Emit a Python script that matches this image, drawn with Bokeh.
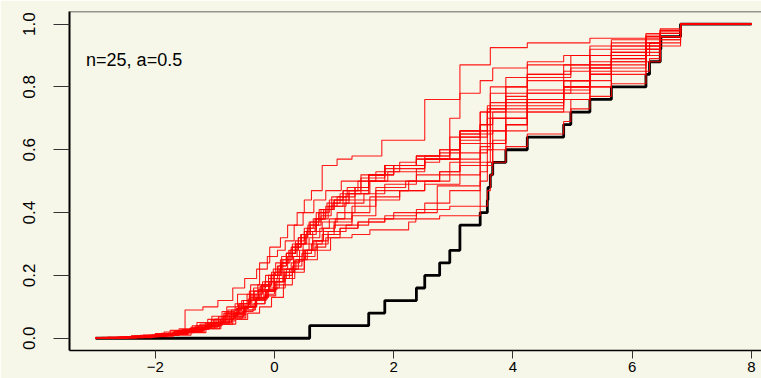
import numpy as np
from bokeh.plotting import figure
from bokeh.models import FixedTicker, Label, Range1d, Span, PrintfTickFormatter
from bokeh.embed import file_html
from bokeh.resources import INLINE

# ---------------- data ----------------
x_ticks = [-2, 0, 2, 4, 6, 8]
x_tick_labels = ["\u22122", "0", "2", "4", "6", "8"]
y_ticks = [0.0, 0.2, 0.4, 0.6, 0.8, 1.0]
annotation_text = "n=25, a=0.5"
x_start, x_end = -3.0, 8.0

# observed sample (n = 25), black empirical CDF
sample_x = [0.59, 1.58, 1.85, 2.38, 2.52, 2.77, 2.94, 3.11, 3.11, 3.45, 3.57, 3.58, 3.62,
            3.66, 3.88, 4.24, 4.85, 4.97, 5.29, 5.65, 6.23, 6.29, 6.47, 6.48, 6.81]

# red random CDF draws: jump locations and CDF value after each jump
red_x01 = [-2.6, -2.2, -1.85, -1.6, -1.3, -1.05, -0.8, -0.62, -0.4, -0.25, -0.08, 0.1, 0.22, 0.38, 0.5, 0.62, 0.8, 1.05, 1.3, 1.8, 2.52, 3.11, 3.62, 4.24, 5.29, 6.23, 6.47, 6.81]
red_y01 = [.004, .01, .02, .03, .05, .07, .1, .14, .17, .24, .29, .32, .36, .4, .44, .47, .55, .57, .58, .63, .76, .87, .925, .94, .955, .97, .985, 1]
red_x02 = [-2.9, -2.4, -2.0, -1.75, -1.5, -1.2, -0.95, -0.7, -0.5, -0.3, -0.12, 0.05, 0.18, 0.33, 0.48, 0.66, 0.86, 1.12, 1.45, 1.85, 2.38, 2.94, 3.11, 3.45, 3.66, 4.24, 4.85, 5.29, 5.65, 6.23, 6.47, 6.81]
red_y02 = [.003, .008, .015, .025, .09, .1, .12, .16, .19, .22, .26, .28, .31, .36, .4, .44, .47, .5, .52, .55, .58, .7, .78, .82, .86, .88, .9, .93, .95, .965, .98, 1]
red_x03 = [-2.7, -2.3, -1.95, -1.6, -1.35, -1.1, -0.85, -0.6, -0.42, -0.2, -0.02, 0.12, 0.3, 0.45, 0.58, 0.75, 0.98, 1.25, 1.58, 1.85, 2.52, 2.77, 3.11, 3.57, 3.88, 4.24, 4.97, 5.29, 5.65, 6.23, 6.47, 6.81]
red_y03 = [.002, .006, .012, .02, .035, .05, .08, .11, .15, .18, .22, .26, .3, .33, .37, .41, .43, .47, .52, .55, .58, .6, .66, .74, .8, .84, .86, .9, .93, .955, .975, 1]
red_x04 = [-2.8, -2.25, -1.9, -1.55, -1.25, -1.0, -0.78, -0.55, -0.35, -0.15, 0.02, 0.2, 0.35, 0.52, 0.7, 0.9, 1.15, 1.4, 1.7, 2.1, 2.38, 2.94, 3.45, 3.62, 4.24, 4.85, 5.29, 5.65, 6.29, 6.47, 6.81]
red_y04 = [.003, .009, .016, .028, .045, .06, .09, .12, .16, .2, .24, .27, .3, .33, .38, .42, .47, .5, .53, .56, .58, .64, .68, .75, .79, .82, .86, .9, .94, .97, 1]
red_x05 = [-2.5, -2.05, -1.7, -1.4, -1.15, -0.9, -0.65, -0.45, -0.25, -0.05, 0.15, 0.3, 0.5, 0.72, 0.94, 1.3, 1.6, 2.25, 2.37, 2.77, 3.45, 3.57, 3.62, 3.66, 3.88, 4.24, 4.85, 4.97, 5.29, 5.65, 6.23, 6.29, 6.47, 6.81]
red_y05 = [.002, .005, .01, .018, .03, .045, .06, .08, .1, .13, .17, .21, .25, .28, .32, .33, .345, .37, .38, .39, .42, .47, .52, .56, .61, .65, .69, .73, .77, .81, .85, .89, .94, 1]
red_x06 = [-2.65, -2.15, -1.8, -1.5, -1.2, -0.95, -0.72, -0.5, -0.3, -0.1, 0.08, 0.25, 0.4, 0.55, 0.72, 0.9, 1.1, 1.4, 1.85, 2.38, 2.73, 3.45, 3.57, 3.88, 4.24, 4.97, 5.29, 5.65, 6.23, 6.47, 6.81]
red_y06 = [.003, .007, .014, .022, .035, .05, .07, .1, .13, .16, .19, .22, .25, .28, .3, .33, .35, .37, .38, .4, .485, .53, .6, .66, .72, .76, .8, .85, .9, .95, 1]
red_x07 = [-2.75, -2.35, -1.92, -1.65, -1.38, -1.12, -0.88, -0.66, -0.46, -0.28, -0.1, 0.06, 0.2, 0.36, 0.5, 0.68, 0.85, 1.0, 1.35, 1.58, 2.0, 2.52, 2.94, 3.11, 3.45, 3.66, 4.24, 4.85, 5.29, 5.65, 6.23, 6.47, 6.81]
red_y07 = [.002, .007, .013, .024, .04, .06, .085, .11, .14, .17, .2, .23, .27, .3, .34, .38, .41, .44, .48, .52, .55, .57, .6, .65, .68, .72, .76, .8, .84, .88, .92, .96, 1]
red_x08 = [-2.45, -2.0, -1.6, -1.3, -1.05, -0.82, -0.6, -0.4, -0.22, -0.05, 0.1, 0.28, 0.45, 0.6, 0.78, 0.95, 1.2, 1.58, 1.85, 2.52, 3.11, 3.45, 3.62, 4.24, 4.85, 5.29, 5.65, 6.23, 6.47, 6.81]
red_y08 = [.004, .01, .022, .035, .05, .075, .1, .13, .17, .21, .25, .29, .33, .36, .39, .42, .46, .5, .54, .57, .63, .72, .8, .84, .87, .9, .92, .95, .97, 1]
red_x09 = [-2.85, -2.3, -1.85, -1.45, -1.18, -0.92, -0.7, -0.48, -0.32, -0.14, 0.0, 0.16, 0.32, 0.48, 0.64, 0.8, 1.05, 1.35, 1.7, 2.2, 2.77, 3.11, 3.57, 3.66, 3.88, 4.85, 5.29, 5.65, 6.23, 6.47, 6.81]
red_y09 = [.002, .006, .012, .02, .03, .045, .065, .09, .12, .15, .18, .22, .26, .3, .34, .37, .4, .44, .48, .5, .53, .59, .65, .7, .76, .82, .87, .91, .94, .97, 1]
red_x10 = [-2.6, -2.1, -1.75, -1.48, -1.22, -0.98, -0.75, -0.56, -0.38, -0.18, -0.02, 0.14, 0.28, 0.42, 0.58, 0.76, 0.92, 1.18, 1.5, 1.85, 2.38, 2.94, 3.45, 3.62, 3.88, 4.24, 4.97, 5.29, 5.65, 6.23, 6.29, 6.47, 6.81]
red_y10 = [.003, .008, .015, .025, .04, .055, .075, .1, .125, .15, .18, .21, .24, .28, .32, .35, .38, .43, .46, .49, .52, .56, .62, .7, .74, .78, .82, .87, .9, .92, .94, .97, 1]
red_x11 = [-2.95, -2.5, -2.05, -1.7, -1.42, -1.15, -0.9, -0.68, -0.5, -0.32, -0.15, 0.0, 0.18, 0.34, 0.5, 0.66, 0.82, 1.0, 1.3, 1.6, 2.1, 2.52, 3.11, 3.45, 3.66, 3.88, 4.24, 4.85, 5.29, 6.23, 6.47, 6.81]
red_y11 = [.002, .005, .01, .017, .028, .04, .06, .08, .1, .125, .15, .18, .21, .25, .28, .31, .34, .37, .4, .45, .47, .49, .55, .6, .66, .7, .76, .8, .86, .92, .96, 1]
red_x12 = [-2.55, -2.15, -1.78, -1.52, -1.28, -1.02, -0.8, -0.58, -0.4, -0.2, -0.05, 0.12, 0.26, 0.4, 0.55, 0.7, 0.88, 1.1, 1.45, 1.9, 2.52, 2.77, 3.11, 3.57, 3.88, 4.24, 4.85, 5.29, 5.65, 6.23, 6.47, 6.81]
red_y12 = [.003, .008, .016, .027, .04, .06, .08, .11, .14, .17, .2, .24, .28, .32, .35, .4, .43, .46, .5, .53, .56, .59, .65, .72, .77, .82, .85, .88, .91, .94, .97, 1]
red_x13 = [-2.7, -2.2, -1.82, -1.55, -1.25, -1.0, -0.76, -0.54, -0.36, -0.16, 0.02, 0.18, 0.34, 0.5, 0.68, 0.86, 1.1, 1.4, 1.85, 2.38, 2.94, 3.45, 3.57, 3.66, 3.88, 4.24, 4.85, 5.29, 5.65, 6.23, 6.47, 6.81]
red_y13 = [.002, .006, .012, .02, .032, .046, .064, .085, .11, .135, .16, .19, .22, .26, .29, .32, .35, .37, .39, .41, .42, .5, .56, .62, .68, .72, .76, .8, .84, .88, .93, 1]
red_x14 = [-2.8, -2.4, -2.0, -1.68, -1.4, -1.12, -0.86, -0.64, -0.44, -0.26, -0.08, 0.08, 0.22, 0.38, 0.54, 0.7, 0.86, 1.05, 1.35, 1.58, 2.0, 2.38, 2.94, 3.11, 3.62, 4.24, 4.85, 5.29, 5.65, 6.23, 6.47, 6.81]
red_y14 = [.003, .007, .013, .022, .035, .05, .07, .095, .12, .15, .18, .22, .26, .3, .34, .38, .42, .45, .48, .52, .55, .57, .6, .66, .73, .78, .82, .86, .9, .93, .96, 1]
red_x15 = [-2.5, -1.95, -1.6, -1.35, -1.08, -0.85, -0.62, -0.44, -0.27, -0.1, 0.05, 0.2, 0.35, 0.5, 0.65, 0.82, 1.0, 1.25, 1.6, 2.38, 2.52, 3.11, 3.45, 3.57, 3.88, 4.24, 4.97, 5.29, 5.65, 6.23, 6.47, 6.81]
red_y15 = [.004, .01, .02, .032, .048, .07, .095, .125, .155, .19, .23, .27, .31, .35, .38, .41, .44, .46, .5, .54, .57, .62, .68, .73, .78, .83, .87, .9, .93, .96, .98, 1]
red_x16 = [-2.9, -2.45, -2.05, -1.72, -1.45, -1.18, -0.94, -0.72, -0.52, -0.34, -0.16, 0.0, 0.16, 0.3, 0.46, 0.62, 0.8, 1.0, 1.3, 1.7, 2.1, 2.52, 2.94, 3.45, 3.62, 3.88, 4.24, 4.85, 5.29, 5.65, 6.23, 6.47, 6.81]
red_y16 = [.002, .005, .009, .015, .025, .037, .052, .07, .09, .11, .14, .17, .2, .23, .27, .3, .33, .36, .39, .44, .47, .5, .52, .56, .62, .68, .74, .79, .84, .88, .92, .96, 1]
red_x17 = [-2.65, -2.25, -1.88, -1.58, -1.32, -1.06, -0.83, -0.6, -0.42, -0.24, -0.06, 0.1, 0.24, 0.4, 0.56, 0.74, 0.92, 1.15, 1.45, 1.85, 2.38, 2.77, 3.11, 3.57, 4.24, 4.85, 5.29, 5.65, 6.23, 6.47, 6.81]
red_y17 = [.003, .008, .015, .026, .04, .058, .08, .105, .135, .165, .2, .24, .28, .32, .36, .4, .44, .47, .51, .55, .58, .6, .64, .7, .76, .8, .85, .89, .93, .97, 1]
red_x18 = [-2.75, -2.3, -1.9, -1.62, -1.35, -1.1, -0.88, -0.66, -0.48, -0.3, -0.12, 0.04, 0.2, 0.36, 0.52, 0.7, 0.9, 1.2, 1.58, 2.0, 2.52, 2.94, 3.45, 3.66, 3.88, 4.24, 4.85, 5.29, 5.65, 6.23, 6.47, 6.81]
red_y18 = [.002, .006, .011, .018, .028, .04, .055, .075, .1, .125, .155, .19, .22, .25, .28, .31, .34, .36, .38, .4, .43, .47, .55, .63, .68, .73, .78, .82, .87, .91, .95, 1]
red_x19 = [-2.55, -2.1, -1.7, -1.42, -1.16, -0.94, -0.72, -0.52, -0.34, -0.16, 0.0, 0.14, 0.3, 0.44, 0.6, 0.78, 0.96, 1.22, 1.58, 1.85, 2.38, 3.11, 3.45, 3.62, 3.88, 4.24, 4.97, 5.29, 5.65, 6.23, 6.47, 6.81]
red_y19 = [.004, .01, .02, .032, .048, .068, .09, .12, .15, .18, .21, .25, .29, .33, .37, .41, .45, .48, .52, .55, .57, .66, .72, .78, .83, .87, .9, .92, .94, .96, .98, 1]
red_x20 = [-2.85, -2.35, -1.95, -1.65, -1.4, -1.14, -0.9, -0.68, -0.5, -0.32, -0.14, 0.02, 0.16, 0.32, 0.48, 0.64, 0.82, 1.02, 1.3, 1.7, 2.25, 2.77, 3.11, 3.45, 3.62, 3.88, 4.24, 4.85, 5.29, 5.65, 6.23, 6.47, 6.81]
red_y20 = [.002, .006, .012, .02, .03, .043, .06, .08, .1, .125, .15, .18, .21, .245, .28, .31, .35, .38, .42, .47, .5, .53, .57, .61, .66, .7, .75, .8, .84, .89, .93, .96, 1]

red_draws = [
    (red_x01, red_y01), (red_x02, red_y02), (red_x03, red_y03), (red_x04, red_y04),
    (red_x05, red_y05), (red_x06, red_y06), (red_x07, red_y07), (red_x08, red_y08),
    (red_x09, red_y09), (red_x10, red_y10), (red_x11, red_y11), (red_x12, red_y12),
    (red_x13, red_y13), (red_x14, red_y14), (red_x15, red_y15), (red_x16, red_y16),
    (red_x17, red_y17), (red_x18, red_y18), (red_x19, red_y19), (red_x20, red_y20),
]

# ---------------- figure ----------------
BG = "#f7f7e9"
FONT = "Liberation Sans"

p = figure(width=761, height=378,
           x_range=Range1d(-3.438, 8.168), y_range=Range1d(-0.039, 1.040),
           output_backend="svg", toolbar_location=None,
           min_border_left=69, min_border_right=0, min_border_top=11, min_border_bottom=28)
p.background_fill_color = BG
p.border_fill_color = BG
p.outline_line_color = None
p.grid.visible = False

# top edge of the box
p.add_layout(Span(location=1.040, dimension="width", line_color="#333333", line_width=1.5))

# black empirical CDF of the sample
n = len(sample_x)
ecdf_x = [x_start] + sorted(sample_x) + [x_end]
ecdf_y = [0.0] + list(np.arange(1, n + 1) / n) + [1.0]
p.step(ecdf_x, ecdf_y, mode="after", line_color="black", line_width=2.8)

# red random CDF draws
for rx, ry in red_draws:
    xs = [x_start] + rx + [x_end]
    ys = [0.0] + ry + [1.0]
    p.step(xs, ys, mode="after", line_color="#ff0000", line_width=1.1, line_alpha=0.9)

p.add_layout(Label(x=-3.16, y=0.886, text=annotation_text, text_font=FONT,
                   text_font_size="18px", text_color="black", text_baseline="alphabetic"))

# axes
p.xaxis.ticker = FixedTicker(ticks=x_ticks)
p.xaxis.major_label_overrides = dict(zip(x_ticks, x_tick_labels))
p.yaxis.ticker = FixedTicker(ticks=y_ticks)
p.yaxis.formatter = PrintfTickFormatter(format="%.1f")
p.yaxis.major_label_orientation = "vertical"
for ax in (p.xaxis, p.yaxis):
    ax.minor_tick_line_color = None
    ax.major_tick_in = 0
    ax.axis_line_color = "black"
    ax.major_tick_line_color = "#333333"
    ax.major_label_text_font = FONT
    ax.major_label_text_color = "black"
p.xaxis.axis_line_width = 1.5
p.yaxis.axis_line_width = 2
p.xaxis.major_tick_out = 8
p.xaxis.major_label_standoff = 3
p.xaxis.major_label_text_font_size = "15px"
p.yaxis.major_tick_out = 16
p.yaxis.major_label_standoff = 18
p.yaxis.major_label_text_font_size = "17px"

open("out.html", "w").write(file_html(p, INLINE))
